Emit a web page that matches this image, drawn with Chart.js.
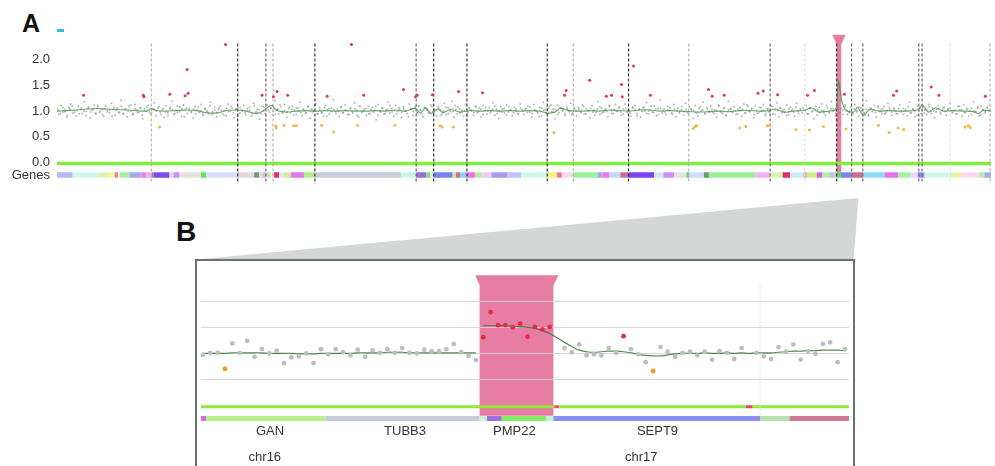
<!DOCTYPE html>
<html>
<head>
<meta charset="utf-8">
<script src="https://cdn.jsdelivr.net/npm/chart.js@4.4.1/dist/chart.umd.min.js"></script>
<style>
body{margin:0;width:995px;height:466px;background:#fff;position:relative;overflow:hidden;font-family:"Liberation Sans",Arial,sans-serif}
.abs{position:absolute}
.panel{font-weight:bold;line-height:1;color:#111}
#boxB{left:195px;top:259px;width:656px;height:230px;border:2px solid #6b7371;border-bottom:none;background:#fff}
</style>
</head>
<body>

<svg class="abs" style="left:0;top:0" width="995" height="466">
  <polygon points="196,259.5 858.5,198 853.5,260" fill="#d3d8d7"/>
</svg>
<div id="boxB" class="abs"></div>

<div class="abs panel" style="left:22px;top:10.5px;font-size:25px">A</div>
<div class="abs" style="left:57px;top:28.5px;width:6.5px;height:3px;background:#3ab8e8"></div>
<div class="abs panel" style="left:176px;top:218px;font-size:28px">B</div>

<div class="abs" style="left:0;top:0;width:995px;height:200px"><canvas id="chartA"></canvas></div>
<div class="abs" style="left:197px;top:261px;width:656px;height:205px"><canvas id="chartB"></canvas></div>

<script>
// ======================= PANEL A DATA ========================
const yTicksA = [-0.25, 0, 0.5, 1, 1.5, 2];

// probe ratios (whole genome), evenly spaced along the x axis
const cloudA = [
1.05,0.93,1.11,0.98,1.02,0.88,1.07,1.14,0.96,1.01,0.91,1.09,1.03,0.95,1.18,0.99,1.06,0.87,1.02,1.12,0.94,1.08,0.97,1.04,
0.90,1.10,1.01,0.96,1.15,1.03,0.92,1.06,0.98,1.21,0.95,1.04,0.89,1.09,1.00,0.93,1.13,1.02,0.97,1.07,0.85,1.05,0.99,1.11,
0.94,1.03,1.16,0.91,1.06,0.98,1.02,0.88,1.10,0.96,1.04,1.19,0.93,1.01,0.97,1.08,0.90,1.12,1.03,0.95,1.06,0.99,0.86,1.09,
1.02,0.97,1.13,0.92,1.05,1.00,0.94,1.17,0.98,1.07,0.89,1.03,1.10,0.95,1.01,0.91,1.14,0.99,1.06,0.87,1.04,1.08,0.96,1.02,
1.11,0.93,1.00,1.07,0.90,1.15,0.97,1.03,0.84,1.09,1.01,0.95,1.12,0.98,1.05,0.92,1.20,1.02,0.94,1.08,0.99,1.13,0.88,1.04,
0.96,1.10,1.02,0.93,1.06,1.17,0.91,1.01,0.97,1.09,0.86,1.04,1.00,1.14,0.95,1.07,0.98,0.90,1.11,1.03,0.94,1.06,1.22,0.99,
1.03,0.89,1.08,0.97,1.12,1.00,0.93,1.05,0.96,1.16,1.02,0.88,1.09,0.99,1.04,0.92,1.10,0.95,1.07,1.01,0.83,1.13,0.98,1.06,
0.94,1.02,1.18,0.96,1.05,0.90,1.11,0.99,1.03,0.87,1.08,1.00,0.95,1.14,1.04,0.92,1.06,0.97,1.10,1.01,0.89,1.07,1.03,0.96,
1.12,0.98,1.04,0.91,1.09,1.02,0.95,1.15,0.93,1.06,0.99,1.19,0.88,1.03,1.08,0.96,1.01,0.90,1.13,0.97,1.05,1.00,0.92,1.10,
0.97,1.06,0.89,1.11,1.01,0.94,1.07,0.99,1.16,0.92,1.03,0.86,1.09,1.04,0.96,1.12,0.98,1.02,0.91,1.08,1.00,0.95,1.14,1.03,
0.93,1.05,1.10,0.98,0.88,1.13,1.01,0.96,1.07,0.90,1.17,1.03,0.95,1.09,0.99,1.04,0.85,1.11,0.97,1.06,1.02,0.92,1.08,1.00,
1.15,0.96,1.03,0.91,1.07,0.99,1.12,0.94,1.05,1.00,0.87,1.10,1.02,0.97,1.18,0.93,1.06,0.98,1.04,0.89,1.09,1.01,0.95,1.13,
0.99,1.08,0.92,1.04,1.14,0.97,1.01,0.90,1.06,1.11,0.95,1.03,0.88,1.07,1.00,1.16,0.94,1.02,0.98,1.10,0.91,1.05,1.21,0.96,
1.04,0.93,1.09,1.01,0.96,1.13,0.89,1.06,0.99,1.03,0.92,1.15,0.97,1.08,1.02,0.86,1.11,0.95,1.05,1.00,1.17,0.94,1.07,0.98,
1.10,0.97,1.02,0.88,1.12,1.00,0.95,1.06,0.91,1.19,1.03,0.98,1.08,0.93,1.04,1.01,0.90,1.14,0.96,1.09,0.99,1.05,0.87,1.11,
0.95,1.07,1.00,1.13,0.92,1.04,0.98,1.10,0.94,1.02,1.16,0.89,1.06,1.01,0.97,1.12,0.93,1.08,1.03,0.90,1.15,0.99,1.05,0.96,
1.02,1.11,0.94,1.06,0.99,0.85,1.09,1.03,0.97,1.14,1.00,0.92,1.07,0.96,1.18,1.04,0.91,1.10,0.98,1.05,0.93,1.12,1.01,0.97,
1.08,0.95,1.13,1.00,0.90,1.06,1.02,0.96,1.20,0.93,1.04,0.99,1.11,0.88,1.07,1.01,0.95,1.09,0.97,1.15,1.03,0.92,1.06,1.00,
0.94,1.12,0.98,1.05,1.01,0.91,1.17,0.96,1.03,0.89,1.10,1.00,0.95,1.08,1.02,0.93,1.13,0.99,1.06,0.87,1.04,1.11,0.97,1.02,
1.07,0.92,1.04,1.15,0.98,1.01,0.94,1.09,1.03,0.90,1.12,0.97,1.05,1.00,0.93,1.18,0.99,1.06,0.91,1.10,1.02,0.96,1.08,1.01
];
// second probe set (interleaved with the first)
const cloudA2 = [
1.02,0.95,1.07,0.99,0.92,1.04,1.10,0.97,1.01,0.94,1.06,1.00,0.91,1.08,0.98,1.03,0.96,1.11,1.00,0.93,
1.05,0.98,1.02,0.90,1.07,1.01,0.96,1.09,0.94,1.03,0.99,1.12,0.95,1.04,0.97,1.06,0.92,1.01,1.08,0.98,
0.96,1.03,1.00,1.09,0.93,1.05,0.98,0.91,1.07,1.02,0.95,1.10,0.99,1.04,0.89,1.06,1.01,0.97,1.03,0.94,
1.08,1.00,0.95,1.04,0.98,1.11,0.93,1.02,0.97,1.06,1.01,0.92,1.05,0.99,1.09,0.96,1.03,0.90,1.07,1.00,
0.97,1.05,1.01,0.94,1.10,0.98,1.03,0.95,1.08,0.91,1.02,1.06,0.99,0.93,1.04,1.12,0.96,1.01,0.98,1.07,
1.03,0.92,1.06,1.00,0.97,1.04,0.95,1.09,1.01,0.98,1.13,0.94,1.02,0.96,1.07,0.90,1.05,0.99,1.03,0.95,
1.00,1.08,0.96,1.02,0.93,1.06,0.99,1.04,0.91,1.10,0.97,1.01,1.05,0.94,1.03,0.98,1.09,0.92,1.00,1.06,
0.95,1.03,1.11,0.98,1.01,0.94,1.07,0.97,1.04,1.00,0.89,1.05,0.99,1.08,0.96,1.02,0.93,1.06,1.01,0.97,
1.09,0.96,1.02,1.05,0.92,1.00,1.07,0.95,1.03,0.99,1.11,0.94,1.04,0.98,1.01,0.91,1.06,1.02,0.97,1.08,
0.99,1.04,0.93,1.07,1.01,0.96,1.03,1.10,0.95,1.00,0.98,1.05,0.92,1.09,1.02,0.97,1.04,0.94,1.06,1.00,
1.04,0.97,1.08,0.95,1.02,0.99,0.90,1.06,1.01,0.96,1.05,1.12,0.98,1.03,0.93,1.07,1.00,0.95,1.04,0.98,
0.93,1.06,1.00,1.03,0.97,1.09,0.94,1.01,1.05,0.98,0.92,1.04,1.08,0.96,1.02,0.99,1.11,0.95,1.03,1.00,
1.06,0.98,0.94,1.05,1.01,0.96,1.08,1.02,0.91,1.04,0.99,1.07,0.95,1.00,1.10,0.97,1.03,0.93,1.06,1.01,
0.98,1.02,1.07,0.93,1.04,1.00,0.96,1.09,0.99,1.03,0.94,1.05,1.01,0.97,0.90,1.08,1.02,0.96,1.04,0.99,
1.03,0.95,1.01,1.10,0.97,1.06,0.92,1.02,1.05,0.98,1.00,0.94,1.07,1.03,0.96,1.12,0.99,1.04,0.93,1.01,
0.97,1.07,1.02,0.95,1.04,0.99,1.09,0.93,1.01,1.06,0.96,1.03,0.91,1.05,1.00,0.98,1.08,0.95,1.02,1.06,
1.01,0.94,1.05,0.99,1.03,0.92,1.07,1.00,0.96,1.11,0.98,1.04,1.01,0.95,1.06,0.97,1.02,1.09,0.93,1.00,
0.96,1.04,0.98,1.08,1.00,0.95,1.03,0.91,1.06,1.02,0.97,1.10,0.99,1.04,0.94,1.01,1.07,0.98,1.03,0.95,
1.05,1.00,0.93,1.02,1.09,0.97,1.04,0.99,0.92,1.06,1.01,0.96,1.03,1.08,0.95,1.00,0.98,1.05,0.94,1.07,
0.99,1.03,1.06,0.96,1.01,0.94,1.10,1.02,0.97,1.04,0.90,1.05,1.00,0.98,1.07,0.93,1.03,0.99,1.06,1.02
];
const genomeLen = 938;

// smoothed ratio
const trendAX = [0,10,20,30,40,50,60,70,80,90,95,100,110,120,130,140,150,160,170,180,190,200,207,212,216,220,230,240,250,260,
  270,280,290,300,310,320,330,340,350,360,365,370,376,382,388,395,405,415,425,435,445,455,465,475,485,492,500,505,515,525,
  535,545,555,565,575,585,595,605,615,625,635,645,655,665,675,685,695,705,715,722,730,740,750,758,765,775,782,785,788,792,
  800,804,810,816,825,835,845,855,865,869,875,882,890,900,910,920,925,930,938];
const trendAY = [1.00,1.01,1.02,1.04,1.05,1.04,1.03,1.02,1.01,1.00,1.05,1.01,1.00,1.01,1.02,1.01,0.97,0.96,1.01,1.02,1.00,0.95,1.00,1.08,1.11,1.02,0.98,1.00,1.01,1.00,
  1.01,1.00,1.01,1.00,1.00,1.01,1.00,1.02,1.00,1.05,0.96,1.06,0.95,1.04,0.97,1.03,0.98,1.01,1.00,1.01,1.00,1.01,1.00,1.01,1.00,0.96,0.98,1.05,1.01,1.00,
  1.01,1.00,1.02,1.01,1.00,1.02,1.02,1.00,1.01,1.00,0.99,0.98,0.99,1.00,0.99,1.01,1.01,1.00,1.01,1.04,0.98,1.00,1.01,1.06,0.98,1.00,1.03,1.58,1.22,1.02,
  0.98,1.07,0.91,1.03,1.00,1.01,1.00,1.00,1.03,1.12,0.98,1.06,1.00,1.01,1.00,0.99,0.95,1.01,1.00];

// outliers: gains (pink) and losses (orange)
const gainAX = [26.7,86.7,87.3,113.3,128.7,131.7,130.7,169.3,206,217.3,221,231.7,271.3,295.7,308,348,360,361.7,377,403.3,427.3,
  509.7,511.3,535,551.7,557,567,567.7,579,596,654.3,658,670,704,709.3,723.7,753.7,760.7,790.7,840,843.3,878,885.7,932.3];
const gainAY = [1.31,1.31,1.28,1.33,1.30,1.35,1.81,2.30,1.31,1.28,1.38,1.31,1.29,2.30,1.31,1.42,1.28,1.31,1.32,1.38,1.36,
  1.31,1.40,1.60,1.29,1.31,1.52,1.28,1.88,1.31,1.42,1.29,1.31,1.35,1.39,1.32,1.31,1.40,1.33,1.31,1.39,1.47,1.31,1.29];
const lossAX = [103,219.7,220,228,237.7,240.3,265.7,277.7,301.7,339.3,384.7,386.7,398,499,639,640.7,642.3,685.7,691.7,713.3,
  715.7,742,755.7,769.7,792.3,825,835.7,844.7,850.3,912,915.3,917.3];
const lossAY = [0.69,0.71,0.67,0.72,0.71,0.71,0.72,0.59,0.72,0.72,0.71,0.69,0.69,0.58,0.66,0.70,0.71,0.67,0.70,0.71,
  0.72,0.64,0.63,0.70,0.65,0.72,0.58,0.67,0.64,0.69,0.71,0.68];

// chromosome / region dividers
const darkDivs  = [181.5,259,378.3,411.7,492.3,574,783];
const midDivs   = [209.8,360.7,716.2,798,809.3,865.5,868.8];
const lightDivs = [94.7,217,518.5,634.5,937];
const faintDivs = [751,897];

// gene track
const geneBoundsA = [-0.3,15.7,42.3,52.3,58,61.3,63,73,84.7,89.7,95,97,113,117,123,144.7,149.7,181.3,198,203,206.3,210.3,214.7,218,
  223,228,234.7,248,259,345.3,360.7,370.7,374.7,378.3,397.3,400.7,404.7,411.3,419.7,427.3,436.3,452,466.3,492.3,502.3,507,518.3,
  543,548,554.7,565.7,573.7,599.7,609,619.7,632.3,634.7,649.7,654.7,701.3,716.3,728.7,736.3,749.7,753,763,768.7,775.3,783,787.3,
  798,809.7,831.3,844.7,857.3,864.7,871.3,898,903,908,926.3,931.3,938];
const geneColorsA = ['#b8baf2','#cdf7e8','#dcf5b0','#f4f59a','#f47aa8','#f2f2f2','#a4f0a0','#a8aaf0','#f27af0','#dcb8e0',
  '#c07090','#7a4cf2','#e8d8f4','#c890f2','#e6e0de','#58e858','#d4def8','#e2d8dc','#6e9e70','#dcdce8',
  '#e2b0f2','#b0f0a0','#f0e8f0','#e8306c','#dce8f8','#cdf298','#e07ae8','#b0f08c','#c8ccda','#c8f7e4',
  '#9a6ce2','#7ae47a','#d8f0d8','#7a82f2','#b8f0a0','#d07090','#80d4f4','#f272e4','#b8f0a0','#eecaf4',
  '#a89af2','#c2c2f8','#d0f8e8','#f2f280','#f272a4','#fcd8f2','#98f098','#a8a8f0','#f272f2','#c2d8f0',
  '#c87094','#7a42f2','#d0ece0','#c890f2','#e8e0dc','#4ae04a','#d0dcf8','#6a9c6e','#98f094','#f2b4f2',
  '#d8f5a8','#e2306a','#c8ecf8','#f29ab8','#c8f284','#d264f2','#b0f0a0','#c0c8d8','#60d860','#8084f2',
  '#c87094','#90dcf8','#e274f2','#a8f0a0','#eed4f4','#9090f2','#d0f8e8','#dcf5b0','#f2f290','#fcd8f8',
  '#b0f0a0','#a8aaf2'];

const cnvA = {x0:783, x1:787.6, fx0:778.6, fx1:792, top:2.49, shoulder:2.3, bottom:-0.2};

// ======================= PANEL B DATA ========================
const probesB = [0.97,1.01,1.01,0.70,1.19,1.01,1.24,0.93,1.08,1.00,1.05,0.81,0.92,0.94,1.00,0.81,1.08,0.98,1.08,1.02,
  0.96,1.07,0.93,1.06,1.01,1.08,1.01,1.10,1.01,1.00,1.07,1.04,1.04,1.08,1.18,1.02,0.95,0.87,
  1.31,1.79,1.54,1.54,1.50,1.57,1.32,1.51,1.46,1.51,null,
  1.10,1.02,1.17,0.96,0.98,0.96,1.10,1.01,1.33,1.08,0.98,0.83,0.66,1.12,1.03,0.93,1.01,1.03,0.96,1.03,0.88,
  1.04,1.01,0.89,1.10,null,1.01,0.94,0.89,1.12,1.03,1.17,0.88,1.04,0.99,1.18,1.21,0.83,1.08];
const gainIdxB = [38,39,40,41,42,43,44,45,46,47,57];
const lossIdxB = [3,61];

const trendBLeft = [1.00,1.00,1.00,1.00,1.01,1.01,1.01,1.01,1.01,1.00,1.00,1.00,1.00,0.99,0.99,0.99,1.00,1.00,1.00,1.00,
  1.00,1.01,1.01,1.01,1.01,1.02,1.02,1.02,1.01,1.01,1.01,1.01,1.01,1.01,1.01,1.01,1.01,1.01];
const trendBRight = [1.53,1.53,1.53,1.53,1.52,1.51,1.50,1.48,1.44,1.38,1.30,1.21,1.13,1.06,1.03,1.02,1.03,1.04,1.04,1.03,
  1.01,0.98,0.96,0.95,0.95,0.97,0.99,1.00,1.00,1.00,1.01,1.00,1.00,1.01,1.00,1.01,1.00,1.01,1.01,1.01,
  1.02,1.03,1.04,1.04,1.05,1.05,1.06,1.06,1.06,1.05];

const geneBoundsB = [-0.25,0.44,16.6,37.5,38.5,40.5,46.5,47.5,75.5,79.5,87.55];
const geneColorsB = ['#d070e0','#b8f08a','#c8ccd8','#c8f0e0','#9b70e0','#80ee60','#c8f0d8','#8a8ef0','#b8e0b0','#d07898'];
const cnBoundsB = [-0.25,47.6,48.3,73.6,74.5,87.55];
const cnColorsB = ['#8ee83e','#f0506a','#8ee83e','#f0406a','#8ee83e'];

const geneNamesB = ['GAN','TUBB3','PMP22','SEPT9'];
const geneNamePosB = [9.1,27.4,42.2,61.6];
const chromNamesB = ['chr16','chr17'];
const chromPosB = [8.4,59.4];
const dividerB = 75.5;

const cnvB = {x0:37.5, x1:47.5, fx0:36.9, fx1:48.2, top:2.5, shoulder:2.31, bottom:-0.2};

// ======================= HELPERS ============================
const FONT = '"Liberation Sans", Arial, sans-serif';
Chart.defaults.font.family = FONT;
const PINK = '#e77da2';
const CLOUD = 'rgba(128,140,128,0.6)';

function segLine(bounds, colors, y, width){
    return {
        data: bounds.map(b => ({x:b, y:y})),
        showLine: true, borderWidth: width, pointRadius: 0,
        borderColor: colors[0], borderCapStyle: 'butt',
        segment: { borderColor: ctx => colors[ctx.p0DataIndex] }
    };
}
function divLines(list, color, top, bottom, dash){
    const d = [];
    list.forEach(x => { d.push({x, y:top}, {x, y:bottom}, {x, y:null}); });
    return { data:d, showLine:true, pointRadius:0, borderColor:color, borderWidth:1.2, borderDash:dash, spanGaps:false };
}
function paintCnv(chart, o){
    const xs = chart.scales.x, ys = chart.scales.y, c = chart.ctx;
    const X = v => xs.getPixelForValue(v), Y = v => ys.getPixelForValue(v);
    c.save();
    c.fillStyle = PINK;
    c.beginPath();
    c.moveTo(X(o.fx0), Y(o.top));
    c.lineTo(X(o.fx1), Y(o.top));
    c.lineTo(X(o.x1), Y(o.shoulder));
    c.lineTo(X(o.x1), Y(o.bottom));
    c.lineTo(X(o.x0), Y(o.bottom));
    c.lineTo(X(o.x0), Y(o.shoulder));
    c.closePath();
    c.fill();
    c.restore();
}

// ======================= CHART A ============================
new Chart(document.getElementById('chartA'), {
    type: 'scatter',
    data: { datasets: [
        { data: gainAX.map((x,i)=>({x, y:gainAY[i]})), pointRadius:1.5, pointBorderWidth:0, pointBackgroundColor:'#e0307e' },
        { data: lossAX.map((x,i)=>({x, y:lossAY[i]})), pointRadius:1.5, pointBorderWidth:0, pointBackgroundColor:'#f5b548' },
        { data: trendAX.map((x,i)=>({x, y:trendAY[i]})), showLine:true, pointRadius:0, borderColor:'rgba(70,150,70,0.8)', borderWidth:1.2, tension:0.3 },
        divLines(darkDivs, '#333', 2.32, -0.42, [3,2]),
        divLines(midDivs, '#6a6a6a', 2.32, -0.42, [3,2]),
        divLines(lightDivs, '#b4b4b4', 2.32, -0.42, [3,2]),
        divLines(faintDivs, '#e0e0e0', 2.32, -0.42, [3,2]),
        { data: cloudA.map((v,i)=>({x:i*genomeLen/cloudA.length, y:v})), pointRadius:1, pointBorderWidth:0, pointBackgroundColor:CLOUD },
        { data: cloudA2.map((v,i)=>({x:(i+0.5)*genomeLen/cloudA2.length, y:v})), pointRadius:1, pointBorderWidth:0, pointBackgroundColor:CLOUD },
        segLine(geneBoundsA, geneColorsA, -0.253, 5.5),
        { data:[{x:0,y:-0.025},{x:genomeLen,y:-0.025}], showLine:true, pointRadius:0, borderColor:'#84ec3c', borderWidth:3.5 }
    ]},
    options: {
        responsive:true, maintainAspectRatio:false, animation:false,
        layout: { padding: { top:42, bottom:11.8, left:0, right:0 } },
        plugins: { legend:{display:false}, tooltip:{enabled:false} },
        scales: {
            x: { type:'linear', min:0, max:genomeLen, display:false },
            y: {
                min:-0.45, max:2.35,
                afterFit(s){ s.width = 57; },
                afterBuildTicks(s){ s.ticks = yTicksA.map(v => ({value:v})); },
                grid:{ display:false, drawTicks:false },
                border:{ display:false },
                ticks:{ padding:7, color:'#333', font:{size:13}, callback: v => v < 0 ? 'Genes' : v.toFixed(1) }
            }
        }
    },
    plugins: [{ id:'cnvA', beforeDatasetsDraw(chart){ paintCnv(chart, cnvA); } }]
});

// ======================= CHART B ============================
new Chart(document.getElementById('chartB'), {
    type: 'scatter',
    data: { datasets: [
        { data: probesB.map((v,i)=>({x:i, y:v})), pointRadius:2.4, pointBorderWidth:0,
          pointBackgroundColor: probesB.map((v,i)=> gainIdxB.includes(i) ? '#e42a44' : lossIdxB.includes(i) ? '#f39a1c' : '#b9c1be') },
        { data: trendBLeft.map((v,i)=>({x:i, y:v})), showLine:true, pointRadius:0, borderColor:'rgba(50,120,50,0.85)', borderWidth:1.2, tension:0.4 },
        { data: trendBRight.map((v,i)=>({x:i+38, y:v})), showLine:true, pointRadius:0, borderColor:'rgba(50,120,50,0.85)', borderWidth:1.2, tension:0.4 },
        { data:[{x:dividerB,y:2.31},{x:dividerB,y:-0.2}], showLine:true, pointRadius:0, borderColor:'#dcdcdc', borderWidth:1, borderDash:[2,2] },
        segLine(geneBoundsB, geneColorsB, -0.254, 5),
        segLine(cnBoundsB, cnColorsB, -0.03, 3)
    ]},
    options: {
        responsive:true, maintainAspectRatio:false, animation:false,
        layout: { padding: { top:14.3, bottom:42.5, left:2, right:1 } },
        plugins: { legend:{display:false}, tooltip:{enabled:false} },
        scales: {
            x: { type:'linear', min:-0.25, max:87.55, display:false },
            y: {
                min:-0.35, max:2.5,
                afterFit(s){ s.width = 0; },
                afterBuildTicks(s){ s.ticks = [0.5,1,1.5,2].map(v => ({value:v})); },
                grid:{ color:'rgba(212,212,212,0.9)', lineWidth:1, drawTicks:false },
                border:{ display:false },
                ticks:{ display:false }
            }
        }
    },
    plugins: [{
        id:'cnvB',
        beforeDraw(chart){ paintCnv(chart, cnvB); },
        afterDraw(chart){
            const c = chart.ctx, xs = chart.scales.x, ys = chart.scales.y;
            c.save();
            c.fillStyle = '#333';
            c.font = '13px ' + FONT;
            c.textAlign = 'center';
            c.textBaseline = 'middle';
            geneNamesB.forEach((n,i) => c.fillText(n, xs.getPixelForValue(geneNamePosB[i]), ys.getPixelForValue(-0.51)));
            chromNamesB.forEach((n,i) => c.fillText(n, xs.getPixelForValue(chromPosB[i]), ys.getPixelForValue(-1.01)));
            c.restore();
        }
    }]
});
</script>
</body>
</html>
